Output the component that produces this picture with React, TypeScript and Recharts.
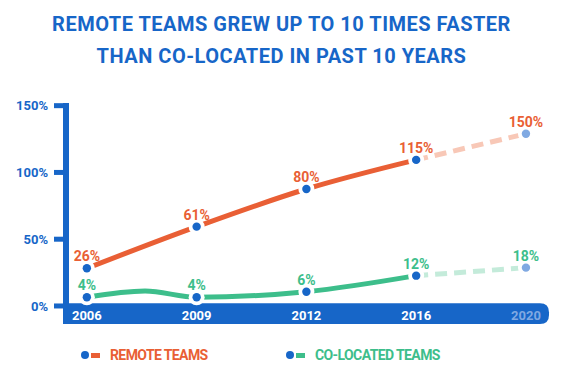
import { ComposedChart, Line, XAxis, YAxis, ReferenceArea, LabelList } from "recharts";

// colours
const BLUE = "#1766c8";
const BLUE_LIGHT = "#80a9e2";
const ORANGE = "#e95f35";
const ORANGE_LIGHT = "#f8c8b7";
const GREEN = "#3dbe8b";
const GREEN_LIGHT = "#c4ebda";
const FONT = "Roboto, 'Noto Sans', sans-serif";

const years = ["2006", "2009", "2012", "2016", "2020"];
// printed labels
const remoteLabels = ["26%", "61%", "80%", "115%", "150%"];
const colocatedLabels = ["4%", "4%", "6%", "12%", "18%"];
// heights as they are drawn (the designer didn't keep to the axis)
const remoteLevels = [28.2, 59.4, 87.6, 109.4, 129];
const colocatedLevels = [6.5, 6.5, 10.7, 22.7, 28.7];
// little wobble in the green line between 2006 and 2009
const colocatedBump = { x: 0.53, y: 11.2 };
const yTicks = [0, 50, 100, 150];
const projectFrom = 3; // 2016 -> 2020 is dashed

const rows: any[] = years.map((_, i) => ({
  x: i,
  remote: i <= projectFrom ? remoteLevels[i] : null,
  remoteProj: i >= projectFrom ? remoteLevels[i] : null,
  colo: i <= projectFrom ? colocatedLevels[i] : null,
  coloProj: i >= projectFrom ? colocatedLevels[i] : null,
  remoteTxt: i <= projectFrom ? remoteLabels[i] : null,
  remoteProjTxt: i > projectFrom ? remoteLabels[i] : null,
  coloTxt: i <= projectFrom ? colocatedLabels[i] : null,
  coloProjTxt: i > projectFrom ? colocatedLabels[i] : null,
}));
rows.push({ x: colocatedBump.x, colo: colocatedBump.y, hideDot: true });
rows.sort((a, b) => a.x - b.x);

const makeDot = (fill: string, onlyAfter = -1) => (props: any) => {
  const { cx, cy, payload, index } = props;
  if (cx == null || cy == null || payload.hideDot || payload.x <= onlyAfter) {
    return <g key={`d-${index}`} />;
  }
  return (
    <g key={`d-${index}`}>
      <circle cx={cx} cy={cy} r={8} fill="#fff" />
      <circle cx={cx} cy={cy} r={4.2} fill={fill} />
    </g>
  );
};

const makeLabel = (fill: string) => (props: any) => {
  const { x, y, value } = props;
  if (value == null || x == null || y == null) return null;
  return (
    <text x={x} y={y - 7} textAnchor="middle" fill={fill} fontSize={14} fontWeight={700} fontFamily={FONT}>
      {value}
    </text>
  );
};

const YearTick = (props: any) => {
  const { x, y, payload } = props;
  const last = payload.value === years.length - 1;
  return (
    <text x={x} y={y - 4} textAnchor="middle" fill={last ? BLUE_LIGHT : "#fff"} fontSize={13} fontWeight={700} fontFamily={FONT}>
      {years[payload.value]}
    </text>
  );
};

// x-axis band, square on the left, rounded on the right
const Band = (props: any) => {
  const { x, y, width, height } = props;
  const l = x - 3;
  const r = x + width;
  const b = y + height;
  const rad = 9;
  const d = `M${l},${y} H${r - rad} Q${r},${y} ${r},${y + rad} V${b - rad} Q${r},${b} ${r - rad},${b} H${l} Z`;
  return <path d={d} fill={BLUE} />;
};

const legendItems = [
  { name: "REMOTE TEAMS", color: ORANGE, left: 81 },
  { name: "CO-LOCATED TEAMS", color: GREEN, left: 286 },
];

export default function App() {
  return (
    <div style={{ position: "absolute", left: 0, top: 0, width: 563, height: 384, background: "#fff", fontFamily: FONT }}>
      <div
        style={{
          position: "absolute",
          top: 8,
          left: 0,
          width: 563,
          textAlign: "center",
          color: BLUE,
          fontSize: 20,
          lineHeight: "32px",
          fontWeight: 700,
          letterSpacing: 0.5,
        }}
      >
        REMOTE TEAMS GREW UP TO 10 TIMES FASTER
        <br />
        THAN CO-LOCATED IN PAST 10 YEARS
      </div>

      <ComposedChart
        width={563}
        height={384}
        data={rows}
        margin={{ top: 103, right: 14, bottom: 40, left: 10 }}
      >
        <XAxis
          type="number"
          dataKey="x"
          domain={[-0.19, 4.21]}
          ticks={[0, 1, 2, 3, 4]}
          axisLine={false}
          tickLine={false}
          tickSize={0}
          tickMargin={0}
          height={20}
          tick={<YearTick />}
          interval={0}
        />
        <YAxis
          type="number"
          domain={[-13.5, 152]}
          ticks={yTicks}
          width={56}
          interval={0}
          tickFormatter={(v) => `${v}%`}
          axisLine={{ stroke: BLUE, strokeWidth: 6 }}
          tickLine={{ stroke: BLUE, strokeWidth: 5 }}
          tickSize={12}
          tickMargin={6}
          tick={{ fill: BLUE, fontSize: 13, fontWeight: 700, fontFamily: FONT }}
        />
        <ReferenceArea y1={-13.5} y2={2} shape={<Band />} ifOverflow="visible" />

        <Line dataKey="remoteProj" type="monotone" stroke={ORANGE_LIGHT} strokeWidth={5} strokeDasharray="12 7"
          dot={makeDot(BLUE_LIGHT, projectFrom)} activeDot={false} isAnimationActive={false}>
          <LabelList dataKey="remoteProjTxt" content={makeLabel(ORANGE)} />
        </Line>
        <Line dataKey="coloProj" type="monotone" stroke={GREEN_LIGHT} strokeWidth={5} strokeDasharray="12 7"
          dot={makeDot(BLUE_LIGHT, projectFrom)} activeDot={false} isAnimationActive={false}>
          <LabelList dataKey="coloProjTxt" content={makeLabel(GREEN)} />
        </Line>
        <Line dataKey="remote" type="monotone" stroke={ORANGE} strokeWidth={5} connectNulls
          dot={makeDot(BLUE)} activeDot={false} isAnimationActive={false}>
          <LabelList dataKey="remoteTxt" content={makeLabel(ORANGE)} />
        </Line>
        <Line dataKey="colo" type="monotone" stroke={GREEN} strokeWidth={5} connectNulls
          dot={makeDot(BLUE)} activeDot={false} isAnimationActive={false}>
          <LabelList dataKey="coloTxt" content={makeLabel(GREEN)} />
        </Line>
      </ComposedChart>

      {legendItems.map((item) => (
        <div
          key={item.name}
          style={{ position: "absolute", top: 348, left: item.left, display: "flex", alignItems: "center", height: 14 }}
        >
          <span style={{ width: 8, height: 8, borderRadius: 4, background: BLUE, display: "inline-block" }} />
          <span style={{ width: 9, height: 5, marginLeft: 2, background: item.color, display: "inline-block" }} />
          <span style={{ marginLeft: 10, color: item.color, fontSize: 14, fontWeight: 700, lineHeight: "14px", letterSpacing: -0.6 }}>
            {item.name}
          </span>
        </div>
      ))}
    </div>
  );
}
